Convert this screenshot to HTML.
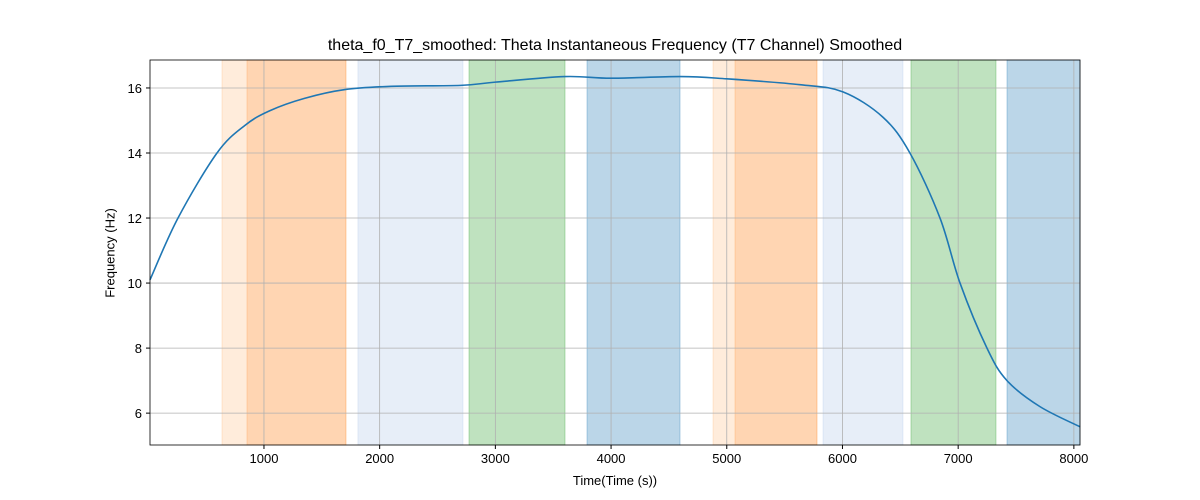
<!DOCTYPE html>
<html><head><meta charset="utf-8"><style>body{margin:0;background:#fff}svg{display:block;font-family:"Liberation Sans",sans-serif}</style></head>
<body>
<svg id="chart" width="1200" height="500"></svg>
<script>
const xs=[15,257,594,836,1050,1350,1700,2100,2700,3000,3600,4000,4600,5000,5633,6004,6350,6583,6843,7016,7249,7422,7707,8053];
const ys=[10.1,12.0,14.0,14.85,15.3,15.68,15.95,16.05,16.08,16.18,16.35,16.3,16.35,16.28,16.1,15.88,15.1,14.0,12.0,10.0,8.0,7.0,6.2,5.58];
const spanStart=[637,853,1812,2772,3792,4881,5071,5832,6592,7422];
const spanEnd=[1709,1709,2720,3602,4596,5780,5780,6523,7327,8060];
const spanColor=['rgba(255,127,14,0.15)','rgba(255,127,14,0.2)','rgba(174,199,232,0.3)','rgba(44,160,44,0.3)','rgba(31,119,180,0.3)','rgba(255,127,14,0.15)','rgba(255,127,14,0.2)','rgba(174,199,232,0.3)','rgba(44,160,44,0.3)','rgba(31,119,180,0.3)'];
const xTicks=[1000,2000,3000,4000,5000,6000,7000,8000];
const yTicks=[6,8,10,12,14,16];
const L=150,R=1080,T=60,B=445,xmin=15,xmax=8053,ymin=5.02,ymax=16.86;
const X=v=>L+(v-xmin)/(xmax-xmin)*(R-L), Y=v=>B-(v-ymin)/(ymax-ymin)*(B-T);
const svg=document.getElementById('chart');const NS='http://www.w3.org/2000/svg';
function mk(t,a,p){const e=document.createElementNS(NS,t);for(const k in a)e.setAttribute(k,a[k]);(p||svg).appendChild(e);return e;}
spanStart.forEach((s,i)=>{const e=mk('rect',{x:X(s),y:T,width:Math.min(X(spanEnd[i]),R)-X(s),height:B-T,fill:spanColor[i],stroke:spanColor[i],'stroke-width':1});

});
xTicks.forEach(v=>{mk('line',{x1:X(v),x2:X(v),y1:T,y2:B,stroke:'#b0b0b0','stroke-width':0.8});mk('line',{x1:X(v),x2:X(v),y1:B,y2:B+4,stroke:'#000'});
const t=mk('text',{x:X(v),y:B+18,'text-anchor':'middle','font-size':13});t.textContent=v;

});
yTicks.forEach(v=>{mk('line',{x1:L,x2:R,y1:Y(v),y2:Y(v),stroke:'#b0b0b0','stroke-width':0.8});mk('line',{x1:L-4,x2:L,y1:Y(v),y2:Y(v),stroke:'#000'});
const t=mk('text',{x:L-8,y:Y(v)+5,'text-anchor':'end','font-size':13});t.textContent=v;

});
const P=xs.map((x,i)=>[X(x),Y(ys[i])]);let d='M'+P[0];
for(let i=0;i<P.length-1;i++){const p0=P[i-1]||P[i],p1=P[i],p2=P[i+1],p3=P[i+2]||p2;
d+=` C${p1[0]+(p2[0]-p0[0])/6},${p1[1]+(p2[1]-p0[1])/6} ${p2[0]-(p3[0]-p1[0])/6},${p2[1]-(p3[1]-p1[1])/6} ${p2[0]},${p2[1]}`;}
const line=mk('path',{d:d,fill:'none',stroke:'#1f77b4','stroke-width':1.6});


mk('rect',{x:L,y:T,width:R-L,height:B-T,fill:'none',stroke:'#000','stroke-width':0.8});
</script>
<div style="position:absolute;left:0;top:0;width:1200px;height:500px;pointer-events:none;font-family:'Liberation Sans',sans-serif">
<div style="position:absolute;top:37px;width:1230px;text-align:center;font-size:16px">theta_f0_T7_smoothed: Theta Instantaneous Frequency (T7 Channel) Smoothed</div>
<div style="position:absolute;top:473px;left:150px;width:930px;text-align:center;font-size:13px">Time(Time (s))</div>
<div style="position:absolute;left:110px;top:253px;transform:translate(-50%,-50%) rotate(-90deg);font-size:13px;white-space:nowrap">Frequency (Hz)</div>
</div>
</body></html>
